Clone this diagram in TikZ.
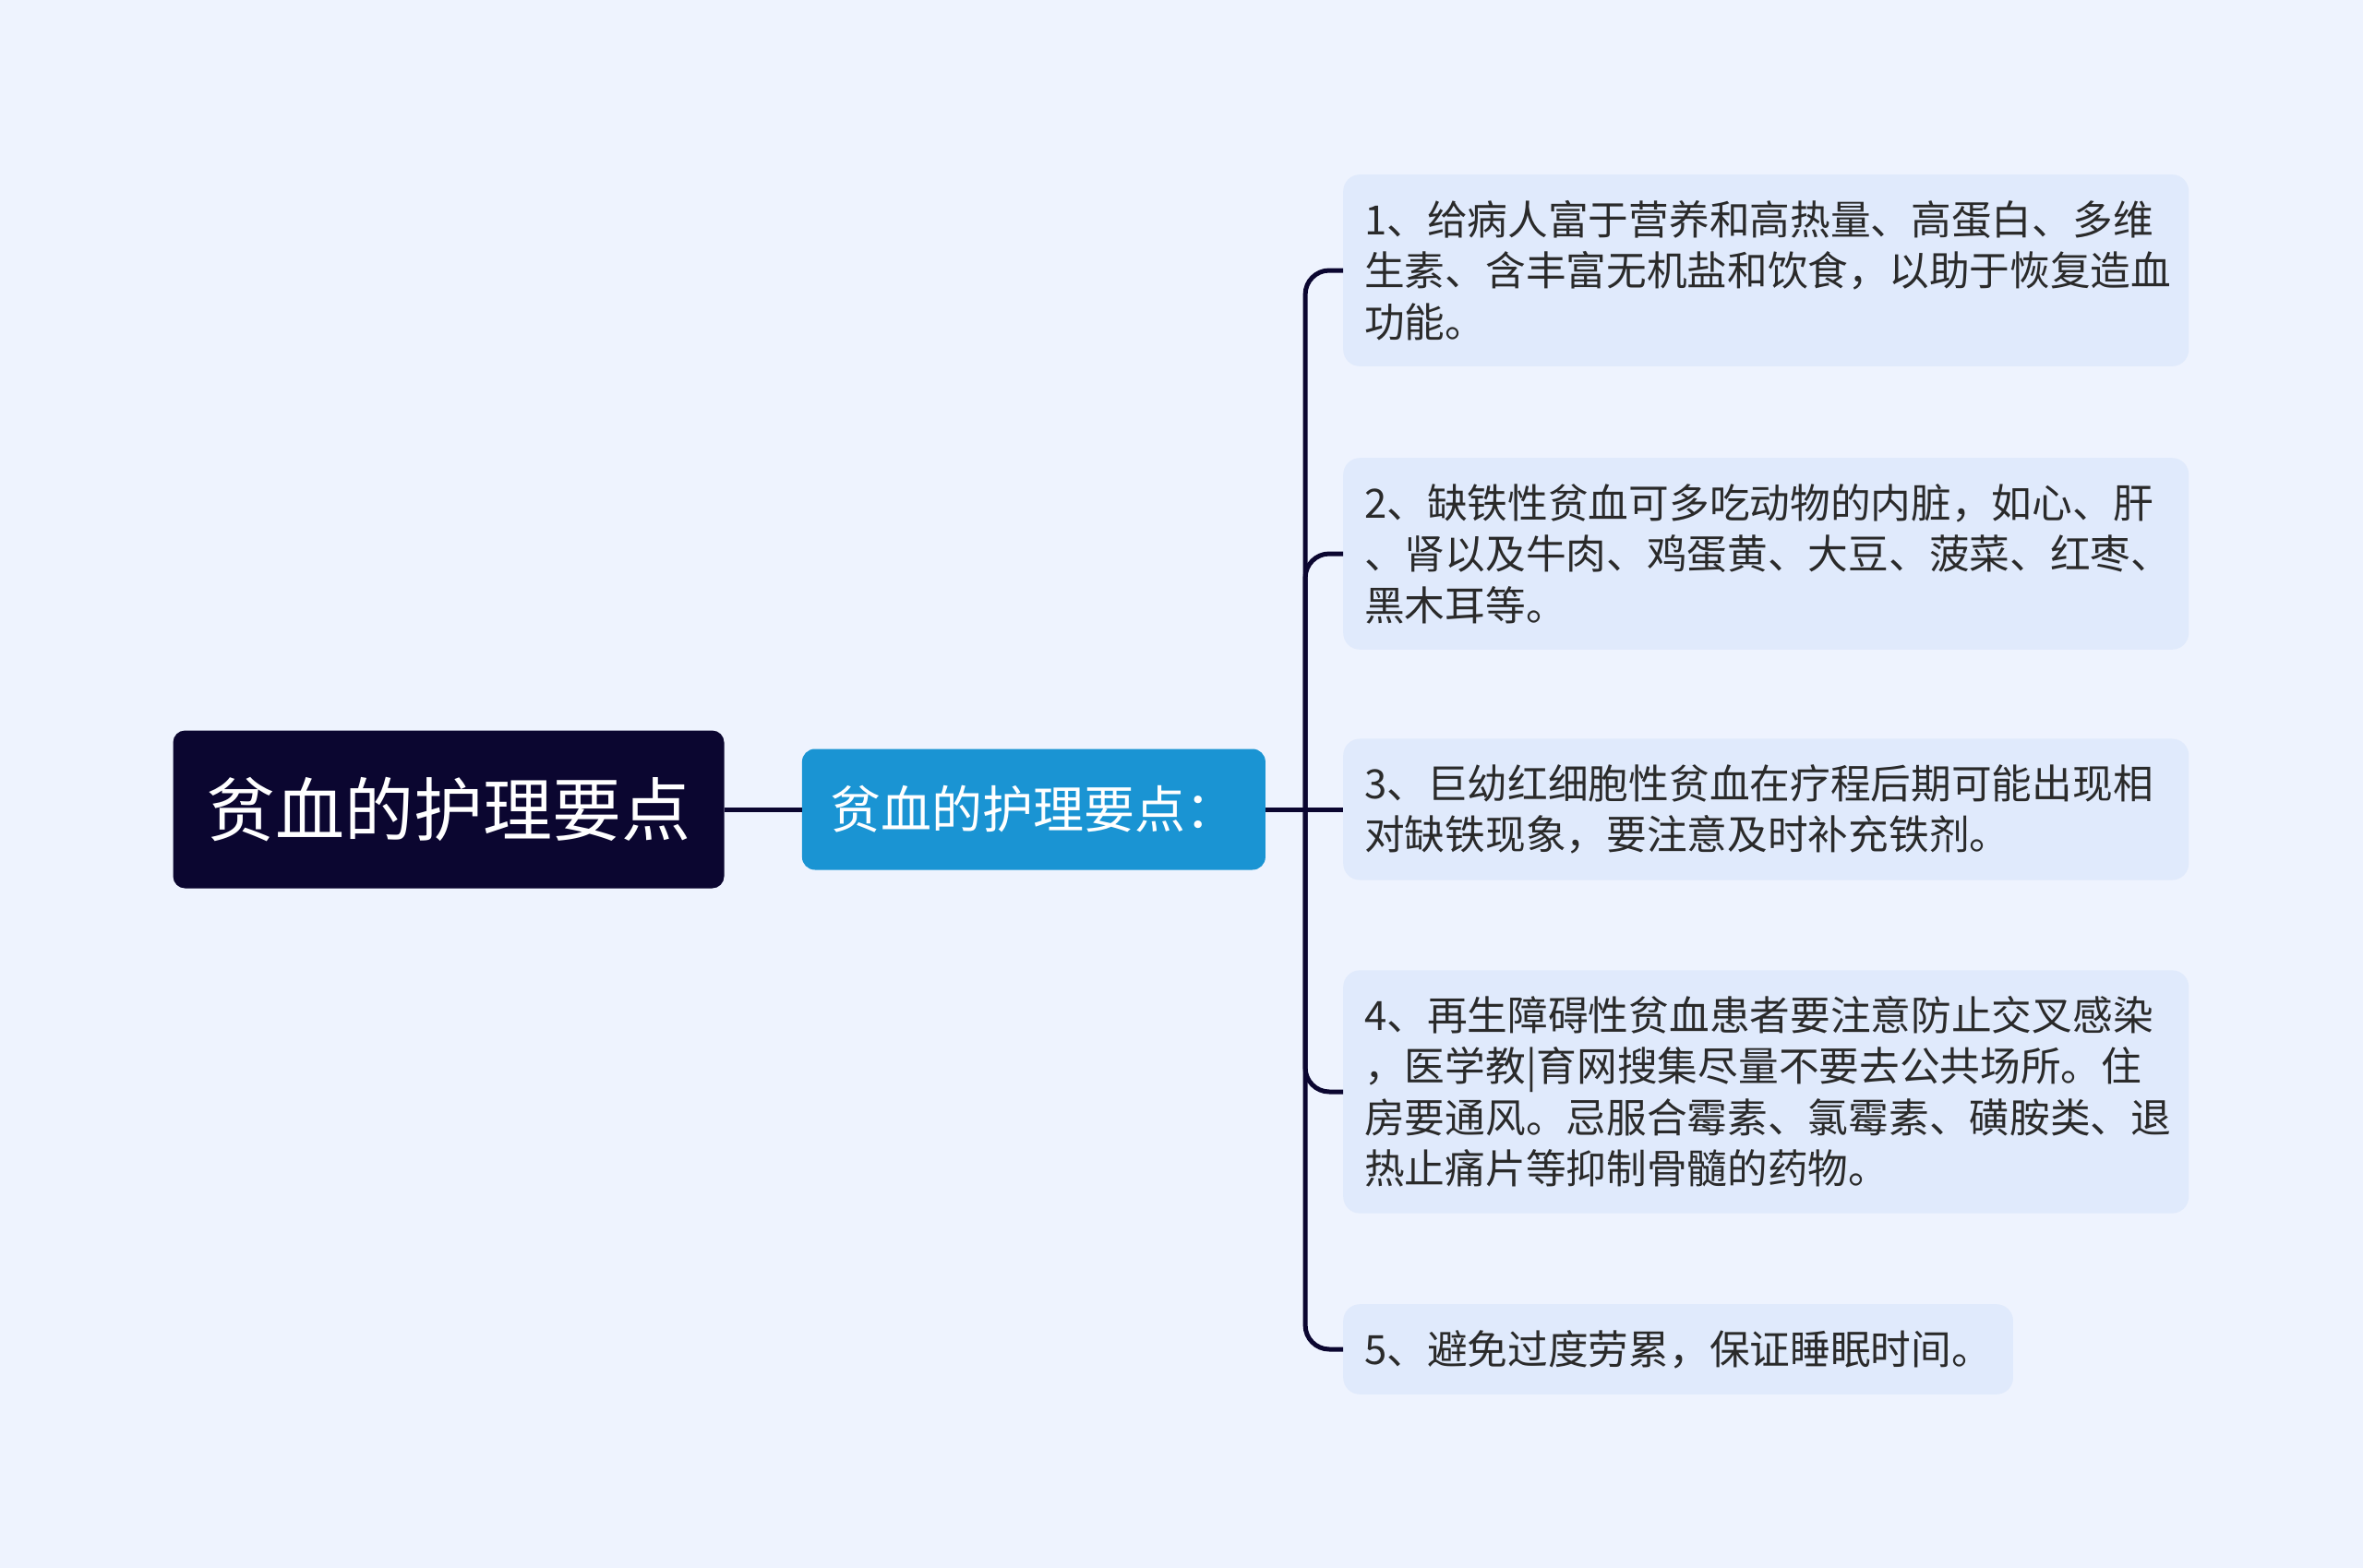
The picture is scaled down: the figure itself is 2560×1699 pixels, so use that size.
\documentclass[tikz,border=0pt]{standalone}
\usepackage{fontspec}
\setmainfont{Noto Sans CJK SC}
\usetikzlibrary{positioning}

\definecolor{pagebg}{HTML}{EEF3FE}
\definecolor{rootnavy}{HTML}{0B0630}
\definecolor{subblue}{HTML}{1A94D3}
\definecolor{leafblue}{HTML}{E0EAFC}
\definecolor{leaftext}{HTML}{2A2A2A}

\begin{document}
\begin{tikzpicture}[x=1pt,y=-1pt]
  \tikzset{rootbox/.style={rectangle,rounded corners=13pt,fill=rootnavy,text=white,
                           minimum width=597pt,minimum height=171pt,inner sep=0pt,
                           font=\fontsize{75}{90}\selectfont},
           subbox/.style={rectangle,rounded corners=14pt,fill=subblue,text=white,
                          minimum width=502pt,minimum height=131pt,inner sep=0pt,
                          font=\fontsize{55}{66}\selectfont},
           leafbox/.style={rectangle,rounded corners=18pt,fill=leafblue,text=leaftext,
                           anchor=west,align=left,inner xsep=23pt,inner ysep=28pt,
                           font=\fontsize{43.7}{55.5}\selectfont},
           leafwide/.style={leafbox,text width=870pt},
           branch/.style={draw=rootnavy,line width=5pt,rounded corners=26pt}
          }

%%%%%%%%%%%%%%%%%%%%%%%%%%%%%%%%%%%%%%%%%%%%%%%%%%%%%%%%%%%%%%%%%%%%%%%%%%%%%%

\fill[pagebg] (0,0) rectangle (2560,1699);
\useasboundingbox (0,0) rectangle (2560,1699);

%%%%%%%%%%%%%%%%%%%%%%%%%%%%%%%%%%%%%%%%%%%%%%%%%%%%%%%%%%%%%%%%%%%%%%%%%%%%%%

\node[rootbox] (R) at (486,877) {贫血的护理要点};

\node[subbox,right=84pt of R] (S) {贫血的护理要点：};

\node[leafwide] (L1) at (1455,293) {1、给病人富于营养和高热量、高蛋白、多维\\生素、含丰富无机盐和饮食，以助于恢复造血\\功能。};

\node[leafwide] (L2) at (1455,600) {2、缺铁性贫血可多吃动物的内脏，如心、肝\\、肾以及牛肉、鸡蛋黄、大豆、菠菜、红枣、\\黑木耳等。};

\node[leafwide] (L3) at (1455,877) {3、巨幼红细胞性贫血在疗程后期可能出现相\\对缺铁现象，要注意及时补充铁剂。};

\node[leafwide] (L4) at (1455,1183) {4、再生障碍性贫血患者要注意防止交叉感染\\，医学教|育网搜集尽量不要去公共场所。住\\房要通风。忌服合霉素、氯霉素、磺胺类、退\\热止痛片等抑制骨髓的药物。};

\node[leafbox] (L5) at (1455,1462) {5、避免过度劳累，保证睡眠时间。};

%%%%%%%%%%%%%%%%%%%%%%%%%%%%%%%%%%%%%%%%%%%%%%%%%%%%%%%%%%%%%%%%%%%%%%%%%%%%%%

\coordinate[right=43pt of S.east] (T);

\draw[branch] (R) -- (S);
\draw[branch] (S.east) -- (L3.west);
\draw[branch] (T) |- (L1.west);
\draw[branch] (T) |- (L2.west);
\draw[branch] (T) |- (L4.west);
\draw[branch] (T) |- (L5.west);

%%%%%%%%%%%%%%%%%%%%%%%%%%%%%%%%%%%%%%%%%%%%%%%%%%%%%%%%%%%%%%%%%%%%%%%%%%%%%%

\end{tikzpicture}
\end{document}
